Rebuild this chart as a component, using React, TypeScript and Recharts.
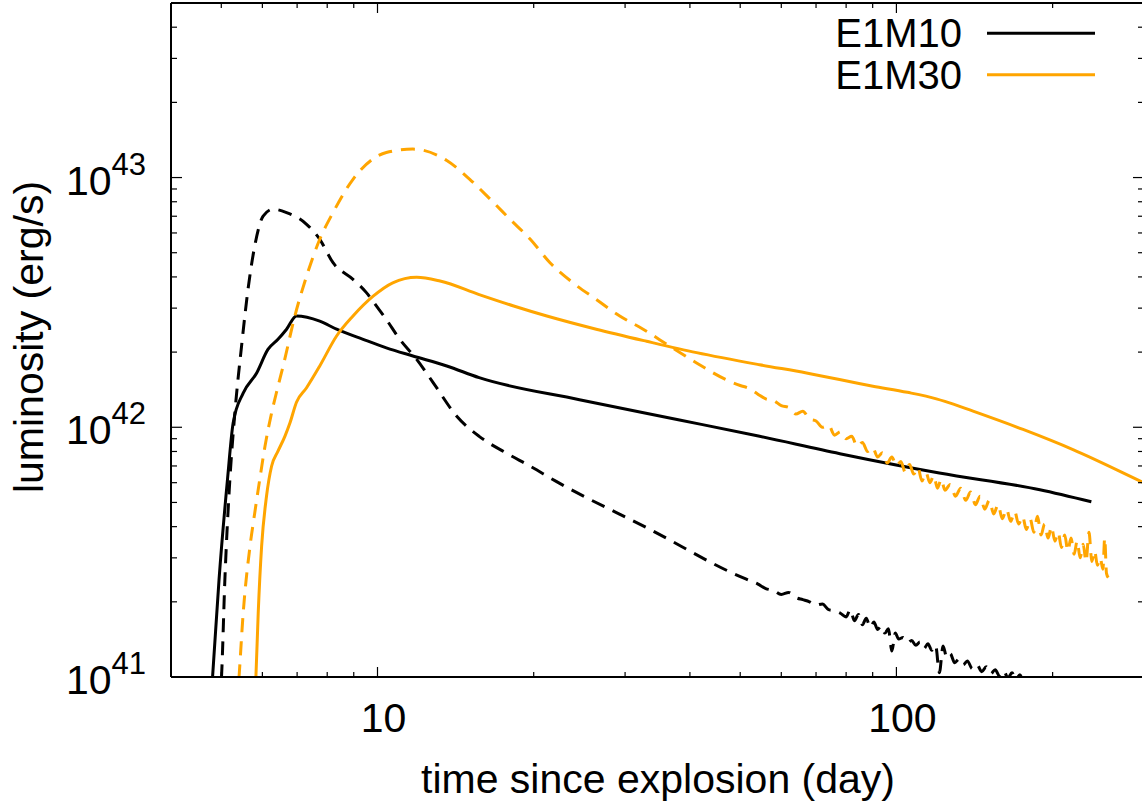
import { LineChart, Line, XAxis, YAxis, Legend, ReferenceLine } from "recharts";

const FONT = "'Liberation Sans', Arial, Helvetica, sans-serif";
const ORANGE = "#FFA500";
const PLOT_TOP = 3;

// [time since explosion (day), luminosity (erg/s)]
const e1m10Solid: [number, number][] = [
  [4.75, 7e40], [4.81, 1.0e41], [4.95, 2.45e41], [5.14, 6.2e41], [5.27, 1.04e42],
  [5.51, 1.37e42], [5.85, 1.65e42], [6.15, 2.05e42], [6.43, 2.25e42], [6.68, 2.47e42],
  [6.98, 2.79e42], [7.74, 2.66e42], [8.34, 2.47e42], [9.38, 2.25e42], [10.4, 2.08e42],
  [11.7, 1.93e42], [13.6, 1.76e42], [15.7, 1.58e42], [24.5, 1.29e42], [38.2, 1.07e42],
  [54.5, 9.2e41], [77.8, 7.84e41], [121, 6.56e41], [189, 5.62e41], [237.5, 5.03e41],
];

const e1m10Dashed: [number, number][] = [
  [4.97, 8e40], [5.005, 1.0e41], [5.08, 2.45e41], [5.18, 5.62e41], [5.31, 1.14e42],
  [5.47, 2.11e42], [5.63, 3.57e42], [5.8, 5.32e42], [6.02, 7.01e42], [6.29, 7.47e42],
  [6.68, 7.24e42], [7.3, 6.5e42], [7.74, 5.66e42], [8.21, 4.56e42], [8.97, 3.91e42],
  [9.52, 3.46e42], [9.95, 3.06e42], [10.4, 2.7e42], [11.04, 2.25e42], [11.9, 1.87e42],
  [12.8, 1.51e42], [14.2, 1.11e42], [15.7, 9.2e41], [17.7, 7.89e41], [19.7, 6.98e41],
  [22.1, 6.07e41], [33.5, 3.9e41], [49.9, 2.53e41],
  [52, 2.44e41], [54, 2.36e41], [56, 2.26e41], [58, 2.22e41], [60, 2.14e41],
  [62, 2.18e41], [64, 2.08e41], [66, 2.04e41], [68, 2.0e41], [70, 1.94e41],
  [72, 1.96e41], [74, 1.86e41], [76, 1.84e41], [78, 1.8e41], [80, 1.74e41],
  [81.5, 1.86e41], [83, 1.68e41], [84.5, 1.78e41], [86, 1.62e41], [87.5, 1.72e41],
  [89, 1.58e41], [90.5, 1.66e41], [92, 1.55e41], [93.5, 1.6e41], [95, 1.5e41],
  [96.5, 1.56e41], [98, 1.27e41], [99.5, 1.5e41], [101, 1.42e41], [103, 1.44e41],
  [105, 1.37e41], [107, 1.4e41], [109, 1.34e41], [111, 1.38e41], [113, 1.3e41],
  [115, 1.36e41], [117, 1.28e41], [119, 1.34e41], [121, 1.04e41], [123, 1.33e41],
  [125, 1.2e41], [127, 1.24e41], [129.5, 1.14e41], [132, 1.18e41], [134.5, 1.12e41],
  [137, 1.16e41], [140, 1.08e41], [143, 1.12e41], [146, 1.05e41], [149, 1.1e41],
  [152, 1.03e41], [155, 1.07e41], [158, 1.01e41], [161, 1.06e41], [164, 0.99e41],
  [167, 1.04e41], [170, 0.98e41], [173, 1.02e41], [176, 0.96e41], [178, 0.99e41],
  [180, 0.92e41], [185, 0.9e41],
];

const e1m30Solid: [number, number][] = [
  [5.8, 8e40], [5.83, 1.0e41], [5.89, 1.8e41], [5.98, 3.34e41], [6.11, 5.28e41],
  [6.25, 6.98e41], [6.43, 8.02e41], [6.63, 9.2e41], [6.78, 1.04e42], [6.98, 1.26e42],
  [7.3, 1.44e42], [7.74, 1.76e42], [8.34, 2.32e42], [8.97, 2.79e42], [9.81, 3.35e42],
  [10.7, 3.79e42], [11.9, 3.99e42], [13.2, 3.85e42], [15.7, 3.4e42], [18.3, 3.06e42],
  [21.2, 2.79e42], [26.4, 2.47e42], [33.0, 2.21e42], [41.2, 1.99e42], [54.5, 1.78e42],
  [67.1, 1.65e42], [90.1, 1.46e42], [105, 1.38e42], [119.4, 1.3e42], [124, 1.27e42],
  [140.5, 1.16e42], [175.4, 9.8e41], [218.9, 8.14e41], [297, 6.05e41], [310, 5.8e41],
];

const e1m30Dashed: [number, number][] = [
  [5.37, 8e40], [5.41, 1.0e41], [5.51, 1.8e41], [5.68, 3.34e41], [5.8, 4.54e41],
  [5.93, 6.17e41], [6.07, 8.4e41], [6.25, 1.14e42], [6.41, 1.42e42], [6.58, 1.76e42],
  [6.93, 2.79e42], [7.3, 4.03e42], [7.74, 5.66e42], [8.21, 7.24e42], [8.97, 9.84e42],
  [10.4, 1.26e43], [11.7, 1.3e43], [13.6, 1.17e43], [15.06, 9.84e42], [16.5, 8.18e42],
  [18.0, 6.81e42], [19.7, 5.66e42], [21.5, 4.56e42], [23.8, 3.79e42], [26.4, 3.25e42],
  [29.3, 2.79e42], [32.5, 2.47e42], [36.6, 2.11e42], [41.2, 1.81e42], [47.0, 1.55e42],
  [50, 1.47e42], [52, 1.43e42], [54, 1.36e42], [56, 1.3e42], [58, 1.28e42],
  [60, 1.22e42], [62, 1.2e42], [64, 1.13e42], [66, 1.16e42], [68, 1.08e42],
  [70, 1.06e42], [72, 1.0e42], [74, 1.02e42], [76, 0.93e42], [78, 0.96e42],
  [80, 0.9e42], [82, 0.92e42], [84, 0.84e42], [86, 0.87e42], [88, 0.8e42],
  [90, 0.83e42], [92, 0.76e42], [94, 0.79e42], [96, 0.72e42], [98, 0.76e42],
  [100, 0.7e42], [102, 0.73e42], [104, 0.66e42], [106, 0.71e42], [108, 0.65e42],
  [110, 0.69e42], [112, 0.61e42], [114, 0.66e42], [116, 0.6e42], [118, 0.64e42],
  [120, 0.57e42], [122, 0.62e42], [124, 0.56e42], [127, 0.59e42], [130, 0.53e42],
  [133, 0.57e42], [136, 0.51e42], [139, 0.55e42], [142, 0.49e42], [145, 0.53e42],
  [148, 0.47e42], [151, 0.51e42], [154, 0.45e42], [157, 0.49e42], [160, 0.43e42],
  [163, 0.47e42], [166, 0.42e42], [169, 0.46e42], [172, 0.41e42], [175, 0.44e42],
  [178, 0.39e42], [181, 0.43e42], [184, 0.38e42], [187, 0.44e42], [190, 0.37e42],
  [193, 0.41e42], [196, 0.36e42], [199, 0.4e42], [202, 0.35e42], [205, 0.38e42],
  [208, 0.33e42], [211, 0.37e42], [214, 0.32e42], [217, 0.36e42], [220, 0.31e42],
  [223, 0.35e42], [226, 0.3e42], [229, 0.34e42], [232, 0.29e42], [235, 0.38e42],
  [238, 0.29e42], [241, 0.32e42], [244, 0.28e42], [247, 0.3e42], [250, 0.27e42],
  [252, 0.36e42], [254, 0.26e42], [256, 0.25e42],
];

const xTicks = [5, 6, 7, 8, 9, 10, 20, 30, 40, 50, 60, 70, 80, 90, 100, 200, 300];
const xMajor = [10, 100];
const yTicks = [
  1e41, 2e41, 3e41, 4e41, 5e41, 6e41, 7e41, 8e41, 9e41,
  1e42, 2e42, 3e42, 4e42, 5e42, 6e42, 7e42, 8e42, 9e42,
  1e43, 2e43, 3e43, 4e43, 5e43,
];
const yMajor: [number, string][] = [[1e41, "41"], [1e42, "42"], [1e43, "43"]];

const rows = (pts: [number, number][]) => pts.map(([t, L]) => ({ t, L }));

// bottom axis ticks, mirrored on the top border as well
const BottomTick = (props: any) => {
  const { x, y, payload } = props;
  const major = xMajor.includes(payload.value);
  const len = major ? 10 : 5;
  return (
    <g>
      <line x1={x} x2={x} y1={y} y2={y - len} stroke="#000" strokeWidth={1.2} />
      <line x1={x} x2={x} y1={PLOT_TOP} y2={PLOT_TOP + len} stroke="#000" strokeWidth={1.2} />
      {major && (
        <text x={x + 6} y={y + 55} textAnchor="middle" fontSize={41} fontFamily={FONT} fill="#000">
          {payload.value}
        </text>
      )}
    </g>
  );
};

const LeftTick = (props: any) => {
  const { x, y, payload } = props;
  const m = yMajor.find((d) => d[0] === payload.value);
  return (
    <g>
      <line x1={x} x2={x + (m ? 11 : 6)} y1={y} y2={y} stroke="#000" strokeWidth={1.2} />
      {m && (
        <text x={146} y={y + 17} textAnchor="end" fontSize={41} fontFamily={FONT} fill="#000">
          10
          <tspan dy={-20} fontSize={31}>
            {m[1]}
          </tspan>
        </text>
      )}
    </g>
  );
};

const RightTick = (props: any) => {
  const { x, y, payload } = props;
  const major = yMajor.some((d) => d[0] === payload.value);
  return <line x1={x} x2={x - (major ? 11 : 6)} y1={y} y2={y} stroke="#000" strokeWidth={1.2} />;
};

const XTitle = () => (
  <text x={658} y={793} textAnchor="middle" fontSize={41} fontFamily={FONT} fill="#000">
    time since explosion (day)
  </text>
);

const YTitle = () => (
  <text
    x={43}
    y={337}
    transform="rotate(-90, 43, 337)"
    textAnchor="middle"
    fontSize={41}
    fontFamily={FONT}
    fill="#000"
  >
    luminosity (erg/s)
  </text>
);

const renderLegend = (props: any) => {
  const items = (props.payload ?? []).filter((e: any) => e.type !== "none");
  return (
    <svg width={340} height={100} style={{ display: "block" }}>
      {items.map((e: any, i: number) => (
        <g key={e.value}>
          <text x={162} y={47 + i * 41.5} textAnchor="end" fontSize={40} fontFamily={FONT} fill="#000">
            {e.value}
          </text>
          <line x1={187} x2={295} y1={33.3 + i * 41.5} y2={33.3 + i * 41.5} stroke={e.color} strokeWidth={3} />
        </g>
      ))}
    </svg>
  );
};

const axisLine = { stroke: "#000", strokeWidth: 2 };

export default function App() {
  return (
    <div
      style={{
        position: "fixed",
        left: 0,
        top: 0,
        width: 1142,
        height: 805,
        overflow: "hidden",
        background: "#fff",
      }}
    >
      <LineChart width={1146} height={805} margin={{ top: PLOT_TOP, right: 1, bottom: 0, left: 0 }}>
        <XAxis
          xAxisId="b"
          dataKey="t"
          type="number"
          scale="log"
          domain={[4, 300]}
          allowDataOverflow
          ticks={xTicks}
          interval={0}
          tickSize={0}
          tickMargin={0}
          tickLine={false}
          axisLine={axisLine}
          height={128}
          tick={BottomTick}
          label={XTitle}
        />
        <YAxis
          yAxisId="l"
          type="number"
          scale="log"
          domain={[1e41, 5e43]}
          allowDataOverflow
          ticks={yTicks}
          interval={0}
          tickSize={0}
          tickMargin={0}
          tickLine={false}
          axisLine={axisLine}
          width={171}
          tick={LeftTick}
          label={YTitle}
        />
        <YAxis
          yAxisId="r"
          orientation="right"
          type="number"
          scale="log"
          domain={[1e41, 5e43]}
          allowDataOverflow
          ticks={yTicks}
          interval={0}
          tickSize={0}
          tickMargin={0}
          tickLine={false}
          axisLine={axisLine}
          width={1}
          tick={RightTick}
        />
        {/* top edge of the frame */}
        <ReferenceLine xAxisId="b" yAxisId="l" y={5e43} stroke="#000" strokeWidth={2} ifOverflow="visible" />
        <Legend
          layout="vertical"
          align="center"
          verticalAlign="middle"
          wrapperStyle={{ left: 800, top: 0, width: 340, height: 100 }}
          content={renderLegend}
        />
        <Line
          xAxisId="b"
          yAxisId="r"
          data={rows(e1m10Solid)}
          dataKey="L"
          name="E1M10"
          type="monotone"
          stroke="#000"
          strokeWidth={3}
          dot={false}
          isAnimationActive={false}
        />
        <Line
          xAxisId="b"
          yAxisId="r"
          data={rows(e1m30Solid)}
          dataKey="L"
          name="E1M30"
          type="monotone"
          stroke={ORANGE}
          strokeWidth={3}
          dot={false}
          isAnimationActive={false}
        />
        <Line
          xAxisId="b"
          yAxisId="l"
          data={rows(e1m10Dashed)}
          dataKey="L"
          name="E1M10 dashed"
          legendType="none"
          type="monotone"
          stroke="#000"
          strokeWidth={3}
          strokeDasharray="14 9"
          dot={false}
          isAnimationActive={false}
        />
        <Line
          xAxisId="b"
          yAxisId="l"
          data={rows(e1m30Dashed)}
          dataKey="L"
          name="E1M30 dashed"
          legendType="none"
          type="monotone"
          stroke={ORANGE}
          strokeWidth={3}
          strokeDasharray="14 9"
          dot={false}
          isAnimationActive={false}
        />
      </LineChart>
    </div>
  );
}
